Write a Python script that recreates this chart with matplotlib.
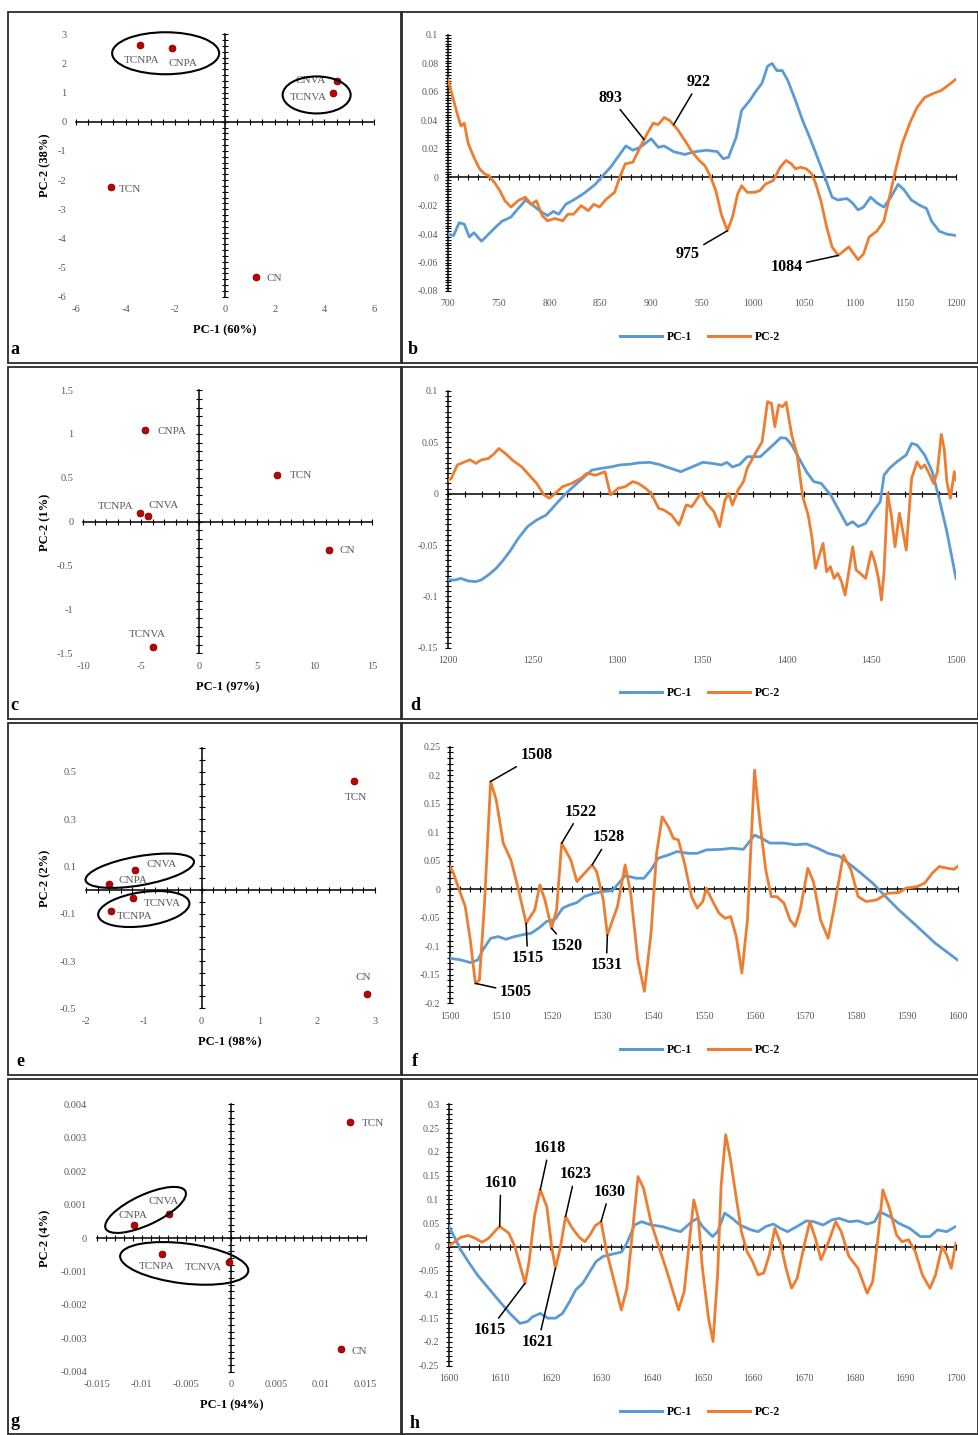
import numpy as np
import matplotlib.pyplot as plt
from matplotlib.patches import Ellipse, Rectangle
from matplotlib.lines import Line2D
import matplotlib.transforms as mtransforms

plt.rcParams['font.family'] = ['Liberation Serif', 'DejaVu Serif']
plt.rcParams['axes.unicode_minus'] = False

W, H = 979, 1435
BLUE = '#5B9BD5'
ORANGE = '#ED7D31'
DOT = '#C00000'
GREY = '#595959'

# ---------------- score plots ----------------
names_a = ['TCNPA', 'CNPA', 'CNVA', 'TCNVA', 'TCN', 'CN']
pc1_a = [-3.42, -2.15, 4.52, 4.36, -4.60, 1.24]
pc2_a = [2.63, 2.52, 1.41, 0.98, -2.25, -5.31]

names_c = ['CNPA', 'TCN', 'TCNPA', 'CNVA', 'CN', 'TCNVA']
pc1_c = [-4.67, 6.78, -5.10, -4.43, 11.28, -4.00]
pc2_c = [1.04, 0.53, 0.095, 0.064, -0.323, -1.424]

names_e = ['TCN', 'CN', 'CNVA', 'CNPA', 'TCNVA', 'TCNPA']
pc1_e = [2.64, 2.86, -1.16, -1.61, -1.18, -1.57]
pc2_e = [0.46, -0.44, 0.085, 0.025, -0.035, -0.087]

names_g = ['TCN', 'CN', 'CNPA', 'CNVA', 'TCNPA', 'TCNVA']
pc1_g = [0.0133, 0.0123, -0.0108, -0.0069, -0.0077, -0.0002]
pc2_g = [0.00346, -0.00332, 0.00039, 0.00072, -0.00049, -0.00073]

# ---------------- loadings ----------------
# 700-1200 cm-1
wn_b1 = [700, 705.5, 711, 716, 721, 725.5, 733, 740, 747, 753,
         762, 769, 773, 776, 784, 791, 798, 803.6, 809, 816,
         823.6, 834.5, 845, 851, 860, 867, 875, 882, 889, 900,
         907, 912.7, 922, 933, 943.6, 954.5, 965, 971, 976, 983.6,
         989, 996, 1003.6, 1009, 1014.5, 1019, 1023.6, 1029, 1034.5, 1042,
         1049, 1056, 1063.6, 1071, 1078, 1083.6, 1092.7, 1098, 1103.6, 1109,
         1116, 1122, 1129, 1136, 1143, 1149, 1156, 1165, 1171, 1176,
         1183.6, 1191, 1200]
pc1_b = [-0.040, -0.041, -0.032, -0.033, -0.042, -0.039, -0.045, -0.040, -0.035, -0.031,
         -0.028, -0.022, -0.019, -0.016, -0.020, -0.024, -0.027, -0.024, -0.026, -0.019,
         -0.016, -0.011, -0.005, 0.000, 0.007, 0.014, 0.022, 0.019, 0.021, 0.027,
         0.021, 0.022, 0.018, 0.016, 0.018, 0.019, 0.018, 0.013, 0.014, 0.028,
         0.047, 0.053, 0.061, 0.066, 0.078, 0.080, 0.075, 0.075, 0.068, 0.054,
         0.040, 0.028, 0.014, 0.000, -0.014, -0.016, -0.015, -0.018, -0.023, -0.021,
         -0.014, -0.018, -0.021, -0.014, -0.005, -0.009, -0.016, -0.020, -0.022, -0.031,
         -0.038, -0.040, -0.041]
wn_b2 = [700, 703.6, 709, 712.7, 716, 720, 725.5, 731, 736, 740,
         745.5, 751, 756, 762, 769, 776, 782, 787, 792.7, 798,
         805, 813, 818, 823.6, 831, 838, 843.6, 849, 856, 864,
         869, 874.5, 882, 889, 896, 902, 907, 912.7, 918, 925.5,
         933, 940, 947, 953, 958, 963.6, 969, 975, 980, 985,
         989, 994.5, 1002, 1007, 1012.7, 1020, 1027, 1032.7, 1038, 1042,
         1047, 1052.7, 1058, 1062, 1067, 1072.7, 1078, 1084, 1094.5, 1103.6,
         1109, 1114.5, 1122, 1129, 1134.5, 1140, 1147, 1154.5, 1161.6, 1169,
         1178, 1185.5, 1193, 1200]
pc2_b = [0.069, 0.059, 0.045, 0.036, 0.038, 0.0235, 0.014, 0.006, 0.0024, 0.001,
         -0.0035, -0.0094, -0.0165, -0.021, -0.0165, -0.014, -0.019, -0.0165, -0.027, -0.0306,
         -0.029, -0.0306, -0.026, -0.026, -0.020, -0.0235, -0.019, -0.021, -0.0153, -0.0106,
         0.000, 0.0094, 0.0106, 0.021, 0.0306, 0.038, 0.037, 0.042, 0.040, 0.034,
         0.026, 0.018, 0.012, 0.008, 0.001, -0.0094, -0.026, -0.0376, -0.028, -0.012,
         -0.006, -0.0106, -0.0106, -0.0094, -0.0047, -0.0024, 0.007, 0.0118, 0.0094, 0.0059,
         0.007, 0.0059, 0.0024, -0.0047, -0.0165, -0.035, -0.049, -0.055, -0.049, -0.058,
         -0.054, -0.042, -0.038, -0.031, -0.014, 0.0035, 0.0235, 0.038, 0.049, 0.056,
         0.059, 0.061, 0.065, 0.069]

# 1200-1500 cm-1
wn_d1 = [1200, 1204.4, 1207.6, 1212, 1216.4, 1219.6, 1224, 1228.4, 1232.7, 1237,
         1241.5, 1247, 1252.4, 1258, 1263.3, 1268.7, 1274, 1279.6, 1285, 1290.5,
         1296, 1301.5, 1307, 1312.4, 1319, 1324.4, 1331, 1337.5, 1344, 1350.5,
         1356, 1361.5, 1364.7, 1368, 1372.4, 1376.7, 1384.4, 1388.7, 1393, 1396.4,
         1399.7, 1403, 1407.3, 1411.7, 1416, 1420.4, 1426, 1431.3, 1435.6, 1439,
         1442.2, 1446.6, 1451, 1455.3, 1457.5, 1460.7, 1465, 1470.6, 1473.8, 1477,
         1481.5, 1486, 1490, 1494.6, 1500]
pc1_d = [-0.084, -0.084, -0.0825, -0.085, -0.0857, -0.084, -0.079, -0.0727, -0.0646, -0.055,
         -0.0435, -0.032, -0.0256, -0.0208, -0.011, -0.0013, 0.0068, 0.015, 0.023, 0.0247,
         0.026, 0.028, 0.0286, 0.030, 0.0305, 0.0286, 0.025, 0.0214, 0.026, 0.0305,
         0.0295, 0.028, 0.0305, 0.026, 0.0286, 0.036, 0.036, 0.0425, 0.049, 0.0545,
         0.054, 0.0474, 0.0344, 0.0214, 0.0117, 0.010, -0.0013, -0.0175, -0.0305, -0.0273,
         -0.032, -0.029, -0.0175, -0.0078, 0.018, 0.0247, 0.031, 0.0377, 0.049, 0.0474,
         0.0377, 0.0214, -0.0045, -0.037, -0.0825]
wn_d2 = [1200, 1202, 1205.5, 1210, 1213, 1216.4, 1219.6, 1224, 1227.3, 1230,
         1234, 1238, 1243.6, 1248, 1252.4, 1256.7, 1260, 1263.3, 1267.6, 1273,
         1278.5, 1282, 1287.3, 1292.7, 1296, 1300.4, 1304.7, 1309, 1312.4, 1316.7,
         1320, 1324.4, 1327.6, 1332, 1336.4, 1340.7, 1344, 1347.3, 1349.5, 1352.7,
         1357, 1360.4, 1363.6, 1365.8, 1368, 1371.3, 1374.5, 1376.7, 1381, 1385.5,
         1388.7, 1391, 1393, 1395.3, 1397.5, 1399.7, 1403, 1406.2, 1409.5, 1412.7,
         1415, 1417, 1419.3, 1421.5, 1423.6, 1425.8, 1428, 1430.2, 1432.4, 1434.5,
         1436.7, 1439, 1441, 1444.4, 1446.6, 1450, 1452, 1454.2, 1456, 1457.5,
         1459.6, 1461.8, 1464, 1466.6, 1468.4, 1470.6, 1473.8, 1477, 1479.3, 1481.5,
         1483.6, 1486.8, 1489, 1491.3, 1493, 1494.6, 1496.7, 1499, 1500]
pc2_d = [0.0133, 0.015, 0.028, 0.031, 0.033, 0.0295, 0.0328, 0.0344, 0.039, 0.044,
         0.039, 0.0328, 0.026, 0.018, 0.010, -0.0013, -0.0045, 0.0003, 0.0068, 0.010,
         0.015, 0.0198, 0.018, 0.0214, -0.0013, 0.0052, 0.0068, 0.0117, 0.010, 0.0052,
         0.0003, -0.0143, -0.016, -0.0208, -0.0305, -0.011, -0.0127, -0.0045, 0.0003, -0.0094,
         -0.0175, -0.032, -0.006, 0.0003, -0.011, 0.0036, 0.0117, 0.0247, 0.0377, 0.0506,
         0.0896, 0.088, 0.0653, 0.0864, 0.0847, 0.089, 0.057, 0.0377, -0.003, -0.0208,
         -0.0435, -0.0727, -0.060, -0.0484, -0.076, -0.071, -0.0825, -0.0776, -0.0857, -0.0987,
         -0.076, -0.0516, -0.0743, -0.079, -0.0825, -0.0565, -0.066, -0.0825, -0.1036, -0.076,
         0.0003, -0.0208, -0.0516, -0.019, -0.035, -0.0549, 0.015, 0.031, 0.0247, 0.028,
         0.0214, 0.010, 0.0214, 0.0578, 0.044, 0.0117, -0.0045, 0.0214, 0.0133]

# 1500-1600 cm-1
wn_f1 = [1500, 1502.2, 1504, 1505.5, 1506.5, 1508, 1509.5, 1511, 1512.7, 1514.2,
         1516, 1517.5, 1519, 1520.7, 1522.2, 1523.6, 1525, 1526.5, 1528.4, 1530.2,
         1532, 1533.5, 1534.5, 1536.7, 1538.2, 1539.6, 1541, 1543, 1544.7, 1547,
         1548.7, 1550.5, 1553.5, 1555.6, 1557.8, 1560, 1561.5, 1563, 1565.8, 1568,
         1570.2, 1572.4, 1574.5, 1576.7, 1578.5, 1581, 1583.3, 1585.5, 1588.4, 1592,
         1595.6, 1600]
pc1_f = [-0.121, -0.124, -0.1286, -0.124, -0.106, -0.086, -0.083, -0.0877, -0.083, -0.080,
         -0.077, -0.068, -0.0567, -0.0526, -0.033, -0.0275, -0.0234, -0.0129, -0.007, -0.004,
         -0.0023, 0.0134, 0.024, 0.0193, 0.0193, 0.0339, 0.0544, 0.060, 0.066, 0.063,
         0.063, 0.069, 0.070, 0.072, 0.070, 0.095, 0.089, 0.081, 0.081, 0.078,
         0.0795, 0.072, 0.063, 0.058, 0.0456, 0.028, 0.0105, -0.010, -0.036, -0.065,
         -0.0947, -0.124]
wn_f2 = [1500, 1500.7, 1501.8, 1503, 1504, 1505, 1505.8, 1506.8, 1508, 1509.1,
         1510.5, 1512, 1513.5, 1515, 1516.7, 1517.7, 1518.7, 1520, 1521, 1522,
         1523.8, 1525, 1526.5, 1528, 1528.9, 1530.2, 1531, 1533, 1534.5, 1535.6,
         1537, 1538.3, 1539.6, 1540.7, 1541.8, 1543, 1544, 1545, 1546.2, 1547.6,
         1548.7, 1549.8, 1550.5, 1551.6, 1553, 1554.2, 1555.3, 1556.4, 1557.5, 1558.6,
         1560, 1561, 1562.2, 1563.3, 1564.4, 1565.8, 1567, 1568, 1569, 1570.5,
         1571.6, 1573, 1574.5, 1575.6, 1577.5, 1579, 1580.4, 1582, 1584, 1586.2,
         1588.4, 1589.8, 1592, 1593.5, 1595, 1596.4, 1598, 1599.3, 1600]
pc2_f = [0.040, 0.028, -0.001, -0.030, -0.089, -0.165, -0.159, -0.0245, 0.189, 0.157,
         0.0807, 0.0514, -0.001, -0.0596, -0.036, 0.0076, -0.0187, -0.0684, -0.036, 0.0807,
         0.0514, 0.0134, 0.028, 0.0427, 0.031, -0.0187, -0.080, -0.030, 0.0427, -0.007,
         -0.124, -0.179, -0.077, 0.063, 0.127, 0.110, 0.0894, 0.0865, 0.0456, -0.013,
         -0.033, -0.0216, 0.0018, -0.0187, -0.042, -0.051, -0.048, -0.083, -0.147, -0.0538,
         0.209, 0.1216, 0.034, -0.0129, -0.0129, -0.0245, -0.054, -0.065, -0.036, 0.0368,
         0.0134, -0.054, -0.086, -0.036, 0.060, 0.0339, -0.0129, -0.0216, -0.0187, -0.007,
         -0.006, 0.0018, 0.0047, 0.0105, 0.028, 0.040, 0.0368, 0.035, 0.040]

# 1600-1700 cm-1
wn_h1 = [1600, 1601.2, 1602.3, 1603.8, 1605.6, 1607.8, 1610, 1612.2, 1614, 1615.5,
         1616.5, 1618, 1619.5, 1621, 1622.4, 1623.8, 1625, 1626.4, 1627.8, 1629,
         1630.4, 1632.2, 1634, 1635.1, 1636.6, 1638, 1639.9, 1642, 1644.2, 1645.7,
         1647.9, 1649, 1650, 1652, 1653, 1654.4, 1655.9, 1657.4, 1659.6, 1661,
         1662.5, 1664, 1665.4, 1666.8, 1668.7, 1670.5, 1672, 1673.8, 1675.6, 1677,
         1678.9, 1680.7, 1682.5, 1684, 1685, 1686.9, 1688.7, 1690.9, 1693, 1694.9,
         1696.4, 1698.2, 1700]
pc1_h = [0.043, 0.018, -0.006, -0.031, -0.059, -0.087, -0.115, -0.142, -0.161, -0.157,
         -0.147, -0.140, -0.150, -0.150, -0.140, -0.115, -0.0905, -0.0765, -0.052, -0.031,
         -0.020, -0.0154, -0.011, 0.0077, 0.046, 0.053, 0.046, 0.043, 0.0358, 0.032,
         0.053, 0.060, 0.043, 0.0217, 0.032, 0.071, 0.060, 0.046, 0.0358, 0.032,
         0.043, 0.048, 0.039, 0.032, 0.043, 0.0547, 0.053, 0.046, 0.057, 0.060,
         0.053, 0.0547, 0.048, 0.053, 0.074, 0.064, 0.050, 0.039, 0.0217, 0.0217,
         0.0358, 0.032, 0.043]
wn_h2 = [1600, 1601.2, 1602.3, 1603.8, 1605.2, 1606.5, 1607.8, 1609.3, 1610, 1611.8,
         1613, 1614, 1615, 1615.8, 1616.9, 1618, 1619.3, 1620.3, 1621, 1622,
         1623, 1624.3, 1625.7, 1626.8, 1627.8, 1628.9, 1630, 1631.1, 1632.6, 1634,
         1635.1, 1636.2, 1637.3, 1638.4, 1639.9, 1641.3, 1642.8, 1644.2, 1645.3, 1646.4,
         1647.5, 1648.3, 1649.2, 1650, 1651.2, 1652.1, 1653, 1653.7, 1654.6, 1655.5,
         1656.6, 1657.7, 1658.8, 1659.9, 1661, 1662.1, 1663.2, 1664.3, 1665.4, 1666.5,
         1667.6, 1668.7, 1670.1, 1671.2, 1672.3, 1673.4, 1674.9, 1676.3, 1677.4, 1678.9,
         1680.7, 1682.5, 1683.6, 1684.7, 1685.6, 1686.9, 1688.3, 1689.4, 1690.7, 1692,
         1693.4, 1694.9, 1696, 1697.3, 1698.2, 1699.1, 1700]
pc2_h = [0.003, 0.011, 0.020, 0.024, 0.018, 0.0098, 0.018, 0.0358, 0.043, 0.029,
         0.0007, -0.038, -0.0765, -0.031, 0.067, 0.120, 0.085, -0.0028, -0.045, 0.000,
         0.064, 0.040, 0.020, 0.011, 0.025, 0.045, 0.053, -0.0098, -0.073, -0.1326,
         -0.087, 0.032, 0.148, 0.123, 0.050, 0.004, -0.045, -0.094, -0.1326, -0.094,
         0.018, 0.099, 0.060, -0.045, -0.150, -0.199, -0.059, 0.130, 0.236, 0.187,
         0.109, 0.032, -0.0098, -0.031, -0.059, -0.055, -0.017, 0.039, 0.0077, -0.045,
         -0.087, -0.066, 0.004, 0.053, 0.018, -0.027, 0.011, 0.053, 0.032, -0.020,
         -0.045, -0.0975, -0.073, 0.025, 0.120, 0.081, 0.025, 0.011, 0.015, -0.0098,
         -0.059, -0.087, -0.059, 0.0007, -0.017, -0.045, 0.0077]

fig = plt.figure(figsize=(W / 100, H / 100), dpi=100)


def px_axes(left, top, right, bottom):
    ax = fig.add_axes([left / W, 1 - bottom / H, (right - left) / W, (bottom - top) / H])
    ax.patch.set_visible(False)
    for s in ax.spines.values():
        s.set_visible(False)
    return ax


def fmt(v):
    return '{:g}'.format(round(v, 10) + 0.0)


def ladder(ax, xlim, ylim, x_at, y_at, xstep, ystep, xmajor, ymajor, size, xpad, ypad):
    # Excel-like axes: lines crossing at (x_at, y_at), cross ticks, labels on the outside
    ax.set_xlim(xlim)
    ax.set_ylim(ylim)
    ax.plot(xlim, [y_at, y_at], color='black', lw=1.1, zorder=2, clip_on=False)
    ax.plot([x_at, x_at], ylim, color='black', lw=1.1, zorder=2, clip_on=False)
    xs = np.arange(xlim[0], xlim[1] + xstep / 2, xstep)
    ys = np.arange(ylim[0], ylim[1] + ystep / 2, ystep)
    ax.plot(xs, np.full(xs.size, y_at), ls='none', marker='|', ms=4.5, mew=0.8,
            color='black', zorder=2, clip_on=False)
    ax.plot(np.full(ys.size, x_at), ys, ls='none', marker='_', ms=4.5, mew=0.8,
            color='black', zorder=2, clip_on=False)
    ax.set_xticks(xmajor, [fmt(v) for v in xmajor])
    ax.set_yticks(ymajor, [fmt(v) for v in ymajor])
    ax.tick_params(length=0, labelsize=size, labelcolor=GREY)
    ax.tick_params(axis='x', pad=xpad)
    ax.tick_params(axis='y', pad=ypad)


def ftext(x, y, s, **kw):
    fig.text(x / W, 1 - y / H, s, ha='center', va='center', **kw)


def score_panel(box, xlim, ylim, xstep, ystep, xmajor, ymajor, names, pc1, pc2, offsets,
                xlabel, ylabel, xl_pos, yl_pos, rings=()):
    ax = px_axes(*box)
    ladder(ax, xlim, ylim, 0, 0, xstep, ystep, xmajor, ymajor, 7.5, 6, 7)
    ax.scatter(pc1, pc2, s=24, color=DOT, edgecolor='#7a0000', linewidth=0.6, zorder=4)
    for name, x, y, (dx, dy) in zip(names, pc1, pc2, offsets):
        ax.annotate(name, (x, y), xytext=(dx * 0.72, dy * 0.72), textcoords='offset points',
                    ha='center', va='center', fontsize=8, color=GREY, zorder=5)
    for cx, cy, w, h, ang in rings:
        trans = fig.dpi_scale_trans + mtransforms.ScaledTranslation(cx, cy, ax.transData)
        ax.add_patch(Ellipse((0, 0), w / 100, h / 100, angle=ang, transform=trans,
                             fill=False, ec='black', lw=1.5, zorder=5, clip_on=False))
    ftext(*xl_pos, xlabel, fontsize=9, fontweight='bold')
    ftext(*yl_pos, ylabel, fontsize=9, fontweight='bold', rotation=90)
    return ax


def loading_panel(box, xlim, ylim, xstep, ystep, xmajor, ymajor, wn1, p1, wn2, p2,
                  legend_y, notes=()):
    ax = px_axes(*box)
    ladder(ax, xlim, ylim, xlim[0], 0, xstep, ystep, xmajor, ymajor, 7, 6, 7)
    ax.plot(wn1, p1, color=BLUE, lw=2.0, zorder=3, solid_joinstyle='round')
    ax.plot(wn2, p2, color=ORANGE, lw=2.0, zorder=3, solid_joinstyle='round')
    for label, tx, ty in notes:
        band = float(label)
        ax.annotate(label, (band, np.interp(band, wn2, p2)), xytext=(tx, ty),
                    ha='center', va='center', fontsize=11.5, fontweight='bold', zorder=6,
                    arrowprops=dict(arrowstyle='-', color='black', lw=1.1, shrinkA=1, shrinkB=0))
    handles = [Line2D([], [], color=BLUE, lw=2.2), Line2D([], [], color=ORANGE, lw=2.2)]
    ax.legend(handles, ['PC-1', 'PC-2'], loc='center', bbox_to_anchor=(700 / W, 1 - legend_y / H),
              bbox_transform=fig.transFigure, ncol=2, frameon=False, handlelength=3.6,
              handletextpad=0.4, columnspacing=1.3, prop={'weight': 'bold', 'size': 8.5})
    return ax


# panel a
score_panel((76, 34.3, 374, 296.7), (-6, 6), (-6, 3), 0.5, 0.2,
            np.arange(-6, 6.1, 2), np.arange(-6, 3.1, 1),
            names_a, pc1_a, pc2_a,
            [(2, -15), (11, -15), (-27, 0), (-25, -4), (19, -2), (19, -2)],
            'PC-1 (60%)', 'PC-2 (38%)', (225, 330), (45, 165),
            rings=[(-2.39, 2.35, 107, 42, 0), (3.69, 0.92, 68, 37, 0)])

# panel c
score_panel((83.3, 390, 372.3, 653.3), (-10, 15), (-1.5, 1.5), 1, 0.1,
            np.arange(-10, 15.1, 5), np.arange(-1.5, 1.51, 0.5),
            names_c, pc1_c, pc2_c,
            [(27, -1), (24, 0), (-24, 7), (16, 11), (18, -1), (-5, 12)],
            'PC-1 (97%)', 'PC-2 (1%)', (228, 687), (45, 522))

# panel e
score_panel((86, 748.3, 375, 1008.3), (-2, 3), (-0.5, 0.6), 0.2, 0.05,
            np.arange(-2, 3.1, 1), np.arange(-0.5, 0.51, 0.2),
            names_e, pc1_e, pc2_e,
            [(2, -16), (-4, 17), (27, 6), (24, 4), (29, -5), (24, -6)],
            'PC-1 (98%)', 'PC-2 (2%)', (230, 1042), (45, 878),
            rings=[(-1.07, 0.082, 110, 29, 10), (-1.0, -0.080, 92, 34, 8)])

# panel g
score_panel((96.7, 1104.3, 365.7, 1371.7), (-0.015, 0.015), (-0.004, 0.004), 0.001, 0.0002,
            np.arange(-0.015, 0.0151, 0.005), np.arange(-0.004, 0.00401, 0.001),
            names_g, pc1_g, pc2_g,
            [(23, -1), (18, -3), (-1, 9), (-6, 12), (-6, -12), (-26, -5)],
            'PC-1 (94%)', 'PC-2 (4%)', (232, 1405), (45, 1238),
            rings=[(-0.00955, 0.00084, 88, 30, 25), (-0.00524, -0.00076, 129, 40, -7)])

# panel b
loading_panel((448, 35, 956, 291), (700, 1200), (-0.08, 0.1), 10, 0.002,
              np.arange(700, 1201, 50), np.arange(-0.08, 0.101, 0.02),
              wn_b1, pc1_b, wn_b2, pc2_b, 337,
              notes=[('893', 860, 0.056), ('922', 947, 0.067),
                     ('975', 936, -0.054), ('1084', 1033, -0.063)])

# panel d
loading_panel((448, 391, 956, 647.7), (1200, 1500), (-0.15, 0.1), 10, 0.005,
              np.arange(1200, 1501, 50), np.arange(-0.15, 0.101, 0.05),
              wn_d1, pc1_d, wn_d2, pc2_d, 693)

# panel f
loading_panel((450, 746.7, 957.6, 1003.3), (1500, 1600), (-0.2, 0.25), 2, 0.01,
              np.arange(1500, 1601, 10), np.arange(-0.2, 0.251, 0.05),
              wn_f1, pc1_f, wn_f2, pc2_f, 1050,
              notes=[('1508', 1517, 0.235), ('1522', 1525.7, 0.136), ('1528', 1531.3, 0.091),
                     ('1515', 1515.3, -0.121), ('1520', 1523, -0.099), ('1531', 1530.8, -0.133),
                     ('1505', 1513, -0.181)])

# panel h
loading_panel((449, 1104.3, 955.8, 1365.7), (1600, 1700), (-0.25, 0.3), 2, 0.01,
              np.arange(1600, 1701, 10), np.arange(-0.25, 0.301, 0.05),
              wn_h1, pc1_h, wn_h2, pc2_h, 1412,
              notes=[('1610', 1610.2, 0.134), ('1618', 1619.8, 0.208), ('1623', 1624.9, 0.153),
                     ('1630', 1631.7, 0.116), ('1615', 1608, -0.175), ('1621', 1617.6, -0.2)])

# panel frames and letters
rows = [(11.7, 363), (367, 719), (723, 1075), (1079, 1434)]
cols = [(8, 401.5), (401.5, 978)]
for top, bottom in rows:
    for left, right in cols:
        fig.add_artist(Rectangle((left / W, 1 - bottom / H), (right - left) / W, (bottom - top) / H,
                                 transform=fig.transFigure, fill=False, ec='#2b2b2b', lw=1.3))

letters = ['a', 'b', 'c', 'd', 'e', 'f', 'g', 'h']
letter_pos = [(15, 350), (413, 350), (14, 706), (415, 706),
              (20, 1062), (415, 1062), (15, 1422), (415, 1424)]
for s, (x, y) in zip(letters, letter_pos):
    ftext(x, y, s, fontsize=13, fontweight='bold')

fig.savefig('out.png', dpi=100)
